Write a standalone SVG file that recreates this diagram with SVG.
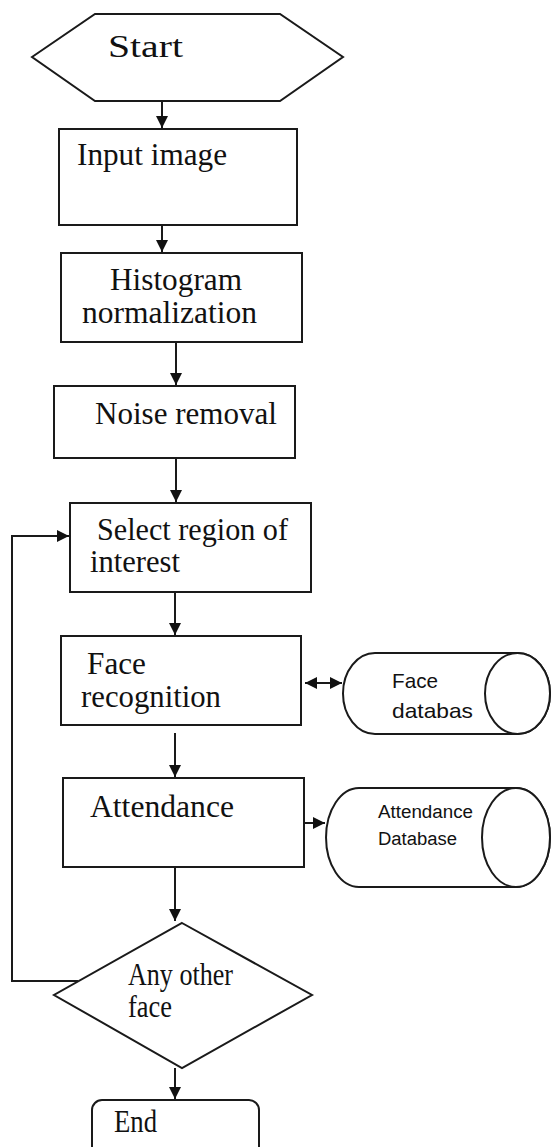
<svg xmlns="http://www.w3.org/2000/svg" width="551" height="1147" viewBox="0 0 551 1147">
<style>
.s{fill:#fff;stroke:#1a1a1a;stroke-width:2}
.c{fill:none;stroke:#1a1a1a;stroke-width:2}
.t{font-family:"Liberation Serif","Times New Roman",serif;fill:#111;font-size:31px}
.d{font-family:"Liberation Sans",Arial,sans-serif;fill:#111}
</style>
<defs>
<marker id="ah" viewBox="0 0 12 12" refX="12" refY="6" markerWidth="12" markerHeight="12" markerUnits="userSpaceOnUse" orient="auto-start-reverse">
<path d="M0,0 L12,6 L0,12 Z" fill="#111"/>
</marker>
</defs>
<g id="start">
<polygon class="s" points="32,57 95,14 280,14 343,57 280,101 95,101"/>
<text class="t" x="108" y="57" font-size="39" textLength="75" lengthAdjust="spacingAndGlyphs">Start</text>
</g>
<g id="input">
<rect class="s" x="59" y="129" width="238" height="96"/>
<text class="t" x="77" y="165" textLength="150" lengthAdjust="spacingAndGlyphs">Input image</text>
</g>
<g id="histogram">
<rect class="s" x="61" y="253" width="241" height="89"/>
<text class="t" x="110" y="290" textLength="132" lengthAdjust="spacingAndGlyphs">Histogram</text>
<text class="t" x="82" y="323" textLength="175" lengthAdjust="spacingAndGlyphs">normalization</text>
</g>
<g id="noise">
<rect class="s" x="54" y="386" width="241" height="72"/>
<text class="t" x="95" y="424" textLength="182" lengthAdjust="spacingAndGlyphs">Noise removal</text>
</g>
<g id="roi">
<rect class="s" x="70" y="503" width="241" height="89"/>
<text class="t" x="97" y="540" textLength="191" lengthAdjust="spacingAndGlyphs">Select region of</text>
<text class="t" x="90" y="572" textLength="90" lengthAdjust="spacingAndGlyphs">interest</text>
</g>
<g id="face">
<rect class="s" x="61" y="636" width="240" height="89"/>
<text class="t" x="87" y="674" textLength="59" lengthAdjust="spacingAndGlyphs">Face</text>
<text class="t" x="81" y="707" textLength="140" lengthAdjust="spacingAndGlyphs">recognition</text>
</g>
<g id="facedb">
<path class="s" d="M375,653 L517.5,653 A32.5,40.5 0 0 1 517.5,734 L375,734 A32,40.5 0 0 1 375,653 Z"/>
<ellipse class="s" cx="517.5" cy="693.5" rx="32.5" ry="40.5"/>
<text class="d" x="392" y="688" font-size="21" textLength="46" lengthAdjust="spacingAndGlyphs">Face</text>
<text class="d" x="392" y="718" font-size="21" textLength="81" lengthAdjust="spacingAndGlyphs">databas</text>
</g>
<g id="attendance">
<rect class="s" x="63" y="778" width="241" height="89"/>
<text class="t" x="90" y="817" textLength="144" lengthAdjust="spacingAndGlyphs">Attendance</text>
</g>
<g id="attdb">
<path class="s" d="M359,788 L516,788 A34,49.5 0 0 1 516,887 L359,887 A33,49.5 0 0 1 359,788 Z"/>
<ellipse class="s" cx="516" cy="837.5" rx="34" ry="49.5"/>
<text class="d" x="378" y="818" font-size="18" textLength="95" lengthAdjust="spacingAndGlyphs">Attendance</text>
<text class="d" x="378" y="845" font-size="18" textLength="79" lengthAdjust="spacingAndGlyphs">Database</text>
</g>
<g id="decision">
<polygon class="s" points="182,923 312,995 182,1068 54,995"/>
<text class="t" x="128" y="985" font-size="26" textLength="105" lengthAdjust="spacingAndGlyphs">Any other</text>
<text class="t" x="128" y="1017" font-size="26" textLength="44" lengthAdjust="spacingAndGlyphs">face</text>
</g>
<g id="end">
<rect class="s" x="92" y="1100" width="167" height="70" rx="10" ry="10"/>
<text class="t" x="114" y="1132" font-size="28" textLength="43" lengthAdjust="spacingAndGlyphs">End</text>
</g>
<g id="connectors">
<line class="c" x1="162" y1="101" x2="162" y2="128" marker-end="url(#ah)"/>
<line class="c" x1="162" y1="225" x2="162" y2="252" marker-end="url(#ah)"/>
<line class="c" x1="176" y1="342" x2="176" y2="385" marker-end="url(#ah)"/>
<line class="c" x1="176" y1="458" x2="176" y2="502" marker-end="url(#ah)"/>
<line class="c" x1="175" y1="592" x2="175" y2="635" marker-end="url(#ah)"/>
<line class="c" x1="305" y1="683" x2="342" y2="683" marker-start="url(#ah)" marker-end="url(#ah)"/>
<line class="c" x1="175" y1="733" x2="175" y2="777" marker-end="url(#ah)"/>
<line class="c" x1="304" y1="823" x2="325" y2="823" marker-end="url(#ah)"/>
<line class="c" x1="175" y1="867" x2="175" y2="921" marker-end="url(#ah)"/>
<line class="c" x1="175" y1="1068" x2="175" y2="1099" marker-end="url(#ah)"/>
<polyline class="c" points="78,981 12,981 12,536 69,536" marker-end="url(#ah)"/>
</g>
</svg>
